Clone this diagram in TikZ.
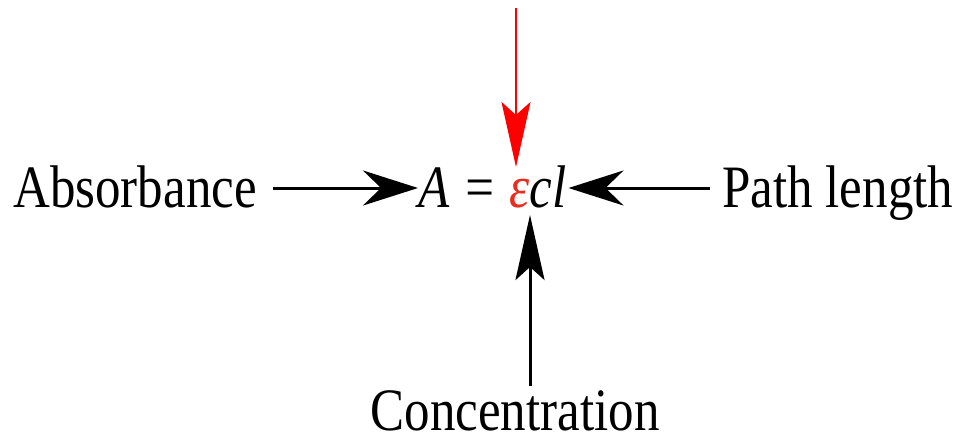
\documentclass[tikz,border=0pt]{standalone}
\usepackage{fontspec}
\setmainfont{Liberation Serif}
\usetikzlibrary{arrows.meta}
\definecolor{epsred}{RGB}{232,45,30}
\newcommand{\tallbox}[1]{\scalebox{1}[1.18]{#1}}
\begin{document}
\begin{tikzpicture}[x=0.75pt,y=-0.75pt,
  txt/.style={inner sep=0pt,font=\fontsize{38.25pt}{40pt}\selectfont},
  harr/.style={line width=2.25pt,-{Stealth[length=41.25pt,width=26.25pt,inset=13.5pt]}},
  varr/.style={line width=2.25pt,-{Stealth[length=48.75pt,width=21.75pt,inset=9.75pt]}},
  rarr/.style={varr,draw=red,fill=red,line width=1.6pt}]
\useasboundingbox (0,0) rectangle (960,436);
\node[txt,anchor=base west] (abs) at (13,207) {\tallbox{Absorbance}};
\node[txt,anchor=base west] (eq) at (418,207) {\tallbox{\itshape A = {\color{epsred}ε}cl}};
\node[txt,anchor=base west] (path) at (722,207) {\tallbox{Path length}};
\node[txt,anchor=base] (conc) at (515,430) {\tallbox{Concentration}};
\coordinate (mid) at (0,188);
\coordinate (top) at (516,8);
\coordinate (epstop) at (516,167);
\coordinate (clbot) at (530,215);
\draw[harr] ([xshift=12pt]abs.east |- mid) -- (eq.west |- mid);
\draw[harr] ([xshift=-9pt]path.west |- mid) -- ([xshift=1.5pt]eq.east |- mid);
\draw[rarr] (top) -- (epstop);
\draw[varr] ([yshift=3pt]conc.north -| clbot) -- (clbot);
\end{tikzpicture}
\end{document}
